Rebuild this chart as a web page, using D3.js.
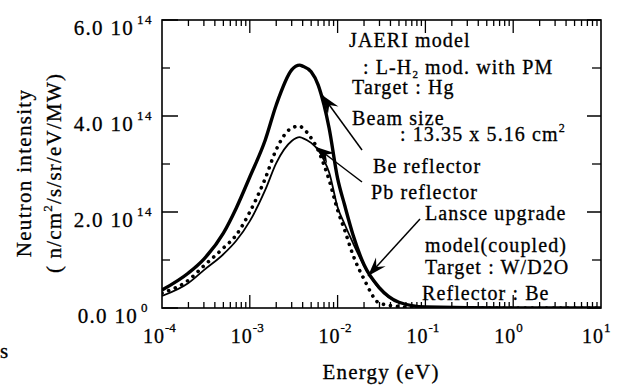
<!DOCTYPE html>
<html><head><meta charset="utf-8">
<script src="https://cdn.jsdelivr.net/npm/d3@7"></script>
<style>
html,body{margin:0;padding:0;background:#fff;}
svg text{font-family:"Liberation Serif","Times New Roman",serif;fill:#000;stroke:#000;stroke-width:0.3px;}
</style></head>
<body><svg id="c" width="626" height="385"></svg>
<script>
// ---- data ----
const energy = [1e-4,2e-4,3e-4,5e-4,7e-4,1e-3,1.5e-3,2e-3,3e-3,3.7e-3,4e-3,5e-3,6e-3,7e-3,8e-3,1e-2,1.2e-2,1.5e-2,2e-2,3e-2,5e-2,1e-1,1,10];
// intensity in units of 1e14 n/cm2/s/sr/eV/MW
const jaeriHg = [0.375,0.73,1.02,1.56,2.08,2.73,3.5,4.23,4.96,5.06,5.04,4.92,4.65,4.23,3.75,2.7,2.15,1.52,0.9,0.42,0.12,0.02,0,0];
const beRefl  = [0.31,0.58,0.88,1.25,1.52,2.0,2.7,3.3,3.75,3.79,3.75,3.54,3.29,2.98,2.67,2.04,1.63,1.1,0.6,0.1,0.03,0,0,0];
const pbRefl  = [0.25,0.52,0.79,1.12,1.4,1.81,2.46,3.02,3.48,3.56,3.54,3.44,3.29,3.08,2.83,2.1,1.75,1.35,0.88,0.4,0.12,0.02,0,0];
const xTickExp = [-4,-3,-2,-1,0,1];
const yTickVals = [0,2,4,6];
const yTickMant = ["0.0","2.0","4.0","6.0"];
const yTickExp = ["0","14","14","14"];
const yMinorVals = [1,3,5];

const svg = d3.select("#c");
const FF = "'Liberation Serif','Times New Roman',serif";
const L=162,R=601,T=20,B=308;
const x = d3.scaleLog().domain([1e-4,10]).range([L,R]);
const y = d3.scaleLinear().domain([0,6]).range([B,T]);

// frame
svg.append("rect").attr("x",L).attr("y",T).attr("width",R-L).attr("height",B-T)
  .attr("fill","none").attr("stroke","#000").attr("stroke-width",1.6);

// x ticks (bottom and top, inward)
const g = svg.append("g").attr("stroke","#000");
for(let e=-4;e<1;e++){
  for(let m=1;m<10;m++){
    if(m===1 && e===-4) continue;
    const v=m*Math.pow(10,e), px=x(v);
    const len = m===1?13:6;
    g.append("line").attr("x1",px).attr("x2",px).attr("y1",B).attr("y2",B-len).attr("stroke-width",1.3);
    g.append("line").attr("x1",px).attr("x2",px).attr("y1",T).attr("y2",T+len).attr("stroke-width",1.3);
  }
}
// y ticks
yTickVals.forEach(v=>{
  g.append("line").attr("x1",L).attr("x2",L+16).attr("y1",y(v)).attr("y2",y(v)).attr("stroke-width",1.5);
  g.append("line").attr("x1",R).attr("x2",R-14).attr("y1",y(v)).attr("y2",y(v)).attr("stroke-width",1.5);
});
yMinorVals.forEach(v=>{
  g.append("line").attr("x1",L).attr("x2",L+8).attr("y1",y(v)).attr("y2",y(v)).attr("stroke-width",1.3);
  g.append("line").attr("x1",R).attr("x2",R-9).attr("y1",y(v)).attr("y2",y(v)).attr("stroke-width",1.3);
});

// x tick labels
xTickExp.forEach(e=>{
  const px = x(Math.pow(10,e));
  svg.append("text").style("font-family",FF).attr("x",px+3).attr("y",343).attr("text-anchor","end")
    .attr("font-size",20).attr("letter-spacing",1).text("10");
  svg.append("text").style("font-family",FF).attr("x",px+3).attr("y",332).attr("font-size",13).text(String(e));
});
// y tick labels
yTickVals.forEach((v,i)=>{
  const off = yTickExp[i]==="0"?4:0;
  svg.append("text").style("font-family",FF).attr("x",134+off).attr("y",y(v)+15).attr("text-anchor","end")
    .attr("font-size",21).attr("letter-spacing",1.3).text(yTickMant[i]+" 10");
  svg.append("text").style("font-family",FF).attr("x",137+off).attr("y",y(v)+4).attr("font-size",13)
    .attr("letter-spacing",1.5).text(yTickExp[i]);
});

// axis titles
svg.append("text").style("font-family",FF).attr("x",381).attr("y",379).attr("text-anchor","middle")
  .attr("font-size",21).attr("letter-spacing",1.2).text("Energy (eV)");
svg.append("text").style("font-family",FF).attr("transform","translate(31,173) rotate(-90)").attr("text-anchor","middle")
  .attr("font-size",21).attr("letter-spacing",1.3).text("Neutron intensity");
const t2 = svg.append("text").style("font-family",FF).attr("transform","translate(61,173) rotate(-90)").attr("text-anchor","middle")
  .attr("font-size",21).attr("letter-spacing",1.2);
t2.append("tspan").text("( n/cm");
t2.append("tspan").attr("dy",-9).attr("font-size",13).text("2");
t2.append("tspan").attr("dy",9).text("/s/sr/eV/MW)");

// curves
const line = d3.line().x((d,i)=>x(energy[i])).y(d=>y(d)).curve(d3.curveMonotoneX);
svg.append("clipPath").attr("id","pc").append("rect").attr("x",L).attr("y",T).attr("width",R-L).attr("height",B-T);
const cg = svg.append("g").attr("clip-path","url(#pc)");
cg.append("path").attr("d",line(pbRefl)).attr("fill","none").attr("stroke","#000").attr("stroke-width",1.8);
cg.append("path").attr("d",line(beRefl)).attr("fill","none").attr("stroke","#000").attr("stroke-width",3.6)
  .attr("stroke-linecap","round").attr("stroke-dasharray","0.1 7");
cg.append("path").attr("d",line(jaeriHg)).attr("fill","none").attr("stroke","#000").attr("stroke-width",3.4);

// annotations
const ann = (tx,ty,str)=>svg.append("text").style("font-family",FF).attr("x",tx).attr("y",ty).attr("font-size",20).attr("letter-spacing",1.1).text(str);
ann(349,47,"JAERI model");
const a2 = svg.append("text").style("font-family",FF).attr("x",363).attr("y",74).attr("font-size",20).attr("letter-spacing",1.1);
a2.append("tspan").text(": L-H");
a2.append("tspan").attr("dy",4).attr("font-size",11).text("2");
a2.append("tspan").attr("dy",-4).text(" mod. with PM");
ann(352,94,"Target : Hg");
ann(352,125,"Beam size");
const a5 = svg.append("text").style("font-family",FF).attr("x",400).attr("y",141).attr("font-size",20).attr("letter-spacing",1.1);
a5.append("tspan").text(": 13.35 x 5.16 cm");
a5.append("tspan").attr("dy",-9).attr("font-size",12).text("2");
ann(373,173,"Be reflector");
ann(371,199,"Pb reflector");
ann(425,220,"Lansce upgrade");
ann(425,252,"model(coupled)");
ann(425,274,"Target : W/D2O");
ann(422,300,"Reflector : Be");

// arrows
const arrow = (x1,y1,x2,y2)=>{
  svg.append("line").attr("x1",x1).attr("y1",y1).attr("x2",x2).attr("y2",y2).attr("stroke","#000").attr("stroke-width",1.5);
  const a=Math.atan2(y2-y1,x2-x1), len=19, w=6.5;
  const bx=x2-len*Math.cos(a), by=y2-len*Math.sin(a);
  const p=[[x2,y2],[bx+w*Math.sin(a),by-w*Math.cos(a)],[x2-0.65*len*Math.cos(a),y2-0.65*len*Math.sin(a)],[bx-w*Math.sin(a),by+w*Math.cos(a)]];
  svg.append("path").attr("d","M"+p.map(q=>q.join(",")).join("L")+"Z").attr("fill","#000");
};
arrow(362,150,322,95);
arrow(362,182,316,147);
arrow(420,219,368,276);

// stray fragment from the neighbouring page at the left edge
svg.append("text").style("font-family",FF).attr("x",0).attr("y",358).attr("font-size",21).text("s");
</script></body></html>
